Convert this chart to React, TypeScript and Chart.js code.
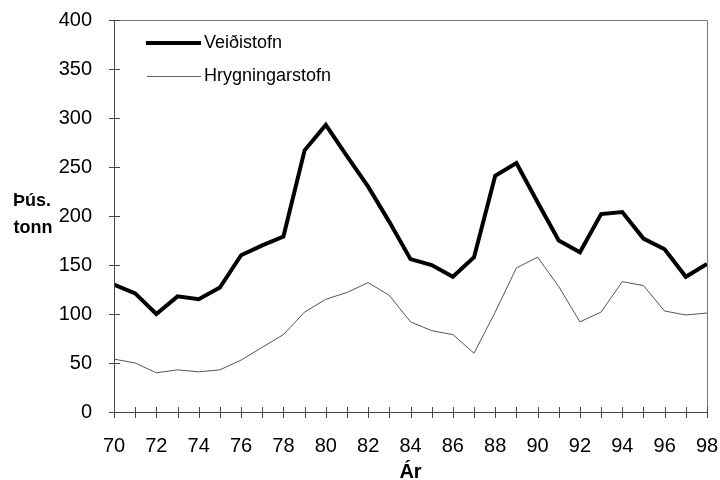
import React, { useEffect, useRef } from "react";
import { Chart, registerables } from "chart.js";

Chart.register(...registerables);

const years = [70, 71, 72, 73, 74, 75, 76, 77, 78, 79, 80, 81, 82, 83, 84, 85, 86, 87, 88, 89, 90, 91, 92, 93, 94, 95, 96, 97, 98];
const veidistofn = [130, 121, 100, 118, 115, 127, 160, 170, 179, 267, 293, 261, 230, 194, 156, 150, 138, 158, 241, 254, 214, 175, 163, 202, 204, 177, 166, 138, 151];
const hrygningarstofn = [54, 50, 40, 43, 41, 43, 53, 66, 79, 102, 115, 122, 132, 119, 92, 83, 79, 60, 102, 147, 158, 128, 92, 102, 133, 129, 103, 99, 101];
const seriesNames = ["Veiðistofn", "Hrygningarstofn"];
const yTitle = ["Þús.", "tonn"];
const xTitle = "Ár";

const FONT = "'Liberation Sans', Arial, sans-serif";

const decorPlugin = {
  id: "decor",
  afterDraw(chart: any) {
    const { ctx, chartArea } = chart;
    const { left, right, top, bottom } = chartArea;
    const xs = chart.scales.x;
    const ys = chart.scales.y;
    ctx.save();
    // frame
    ctx.strokeStyle = "#777";
    ctx.lineWidth = 1;
    ctx.beginPath();
    ctx.moveTo(left + 0.5, top + 0.5);
    ctx.lineTo(right + 0.5, top + 0.5);
    ctx.lineTo(right + 0.5, bottom + 0.5);
    ctx.stroke();
    ctx.strokeStyle = "#444";
    ctx.beginPath();
    ctx.moveTo(left + 0.5, top);
    ctx.lineTo(left + 0.5, bottom + 0.5);
    ctx.lineTo(right + 0.5, bottom + 0.5);
    ctx.stroke();
    // tick marks crossing axes
    ctx.beginPath();
    for (const yr of years) {
      const px = Math.round(xs.getPixelForValue(yr)) + 0.5;
      ctx.moveTo(px, bottom - 5);
      ctx.lineTo(px, bottom + 6);
    }
    for (let v = 0; v <= 400; v += 50) {
      const py = Math.round(ys.getPixelForValue(v)) + 0.5;
      ctx.moveTo(left - 5, py);
      ctx.lineTo(left + 6, py);
    }
    ctx.stroke();
    // legend
    ctx.strokeStyle = "#000";
    ctx.lineWidth = 4;
    ctx.beginPath();
    ctx.moveTo(146, 43);
    ctx.lineTo(201, 43);
    ctx.stroke();
    ctx.strokeStyle = "#666";
    ctx.lineWidth = 1;
    ctx.beginPath();
    ctx.moveTo(147, 76.5);
    ctx.lineTo(201, 76.5);
    ctx.stroke();
    ctx.fillStyle = "#000";
    ctx.font = "18px " + FONT;
    ctx.textBaseline = "middle";
    ctx.textAlign = "left";
    ctx.fillText(seriesNames[0], 204, 43);
    ctx.fillText(seriesNames[1], 204, 76);
    // y title
    ctx.font = "bold 18px " + FONT;
    ctx.textAlign = "center";
    ctx.fillText(yTitle[0], 32, 201);
    ctx.fillText(yTitle[1], 33, 228);
    // x title
    ctx.font = "bold 20px " + FONT;
    ctx.textBaseline = "alphabetic";
    ctx.fillText(xTitle, (left + right) / 2, 478);
    ctx.restore();
  },
};

export default function App() {
  const ref = useRef<HTMLCanvasElement>(null);
  useEffect(() => {
    document.body.style.margin = "0";
    const chart = new Chart(ref.current as HTMLCanvasElement, {
      type: "line",
      data: {
        datasets: [
          {
            label: seriesNames[0],
            data: years.map((y, i) => ({ x: y, y: veidistofn[i] })),
            borderColor: "#000",
            borderWidth: 4,
            pointRadius: 0,
            tension: 0,
            borderJoinStyle: "miter",
          },
          {
            label: seriesNames[1],
            data: years.map((y, i) => ({ x: y, y: hrygningarstofn[i] })),
            borderColor: "#555",
            borderWidth: 1,
            pointRadius: 0,
            tension: 0,
          },
        ],
      },
      options: {
        animation: false,
        responsive: false,
        maintainAspectRatio: false,
        layout: { padding: { left: 0, right: 13, top: 20, bottom: 0 } },
        plugins: { legend: { display: false }, tooltip: { enabled: false } },
        scales: {
          x: {
            type: "linear",
            min: 70,
            max: 98,
            grid: { display: false },
            border: { display: false },
            ticks: {
              stepSize: 2,
              color: "#000",
              font: { family: FONT, size: 20 },
              padding: 14,
              maxRotation: 0,
              autoSkip: false,
            },
            afterFit(scale: any) {
              scale.height = 68;
              scale.paddingLeft = 0;
              scale.paddingRight = 0;
            },
          },
          y: {
            min: 0,
            max: 400,
            grid: { display: false },
            border: { display: false },
            ticks: {
              stepSize: 50,
              color: "#000",
              font: { family: FONT, size: 20 },
              padding: 14,
            },
            afterFit(scale: any) {
              scale.width = 114;
              scale.paddingTop = 0;
              scale.paddingBottom = 0;
            },
          },
        },
      },
      plugins: [decorPlugin],
    } as any);
    return () => chart.destroy();
  }, []);
  return (
    <div style={{ width: 720, height: 480 }}>
      <canvas ref={ref} width={720} height={480} style={{ width: 720, height: 480 }} />
    </div>
  );
}
